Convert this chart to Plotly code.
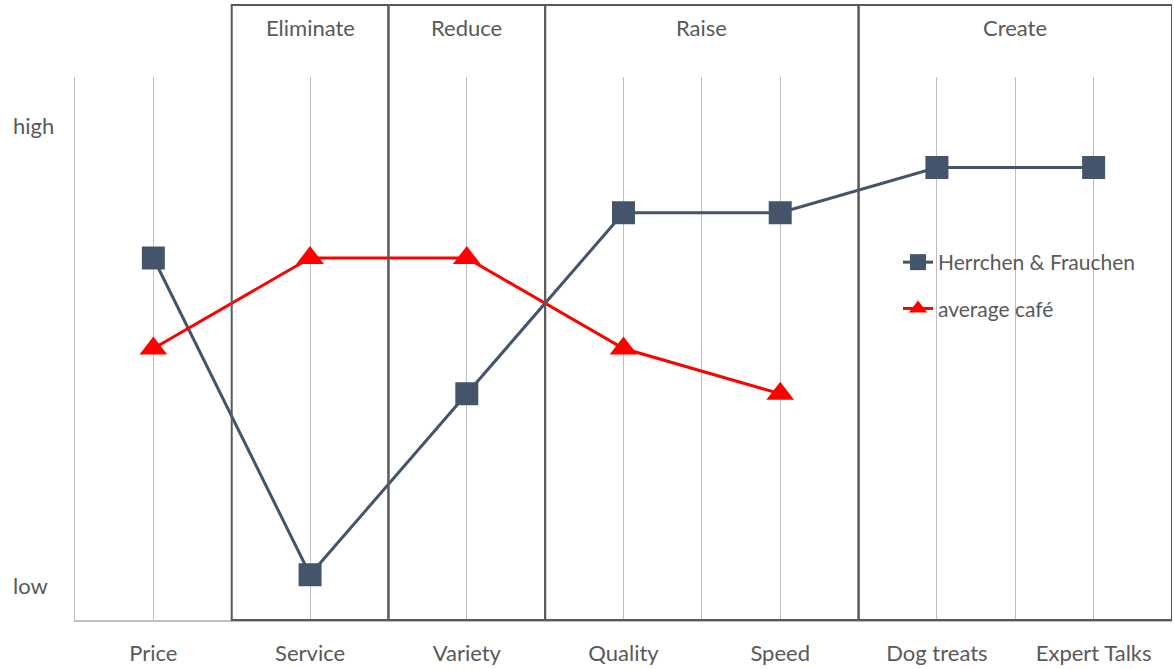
import plotly.graph_objects as go

categories = ["Price", "Service", "Variety", "Quality", "Speed", "Dog treats", "Expert Talks"]
herrchen = [8, 1, 5, 9, 9, 10, 10]
average_cafe = [6, 8, 8, 6, 5, None, None]
groups = [("Eliminate", 1, 1), ("Reduce", 2, 2), ("Raise", 3, 4), ("Create", 5, 6)]
y_labels = [("high", 10.92), ("low", 0.77)]

FONT = "Lato"
TXT = "#595959"
W, H = 1174, 669
ML, MR, MT, MB = 75, 2, 77, 49
ph = H - MT - MB
pw = W - ML - MR

x = list(range(len(categories)))

fig = go.Figure()
fig.add_trace(go.Scatter(
    x=x, y=herrchen, name="Herrchen & Frauchen", mode="lines+markers",
    line=dict(color="#44546A", width=3),
    marker=dict(symbol="square", size=23, color="#44546A"),
    legendgroup="a"))
fig.add_trace(go.Scatter(
    x=x, y=average_cafe, name="average café", mode="lines+markers",
    line=dict(color="#FF0000", width=3),
    marker=dict(symbol="triangle-up", size=24, color="#FF0000"),
    legendgroup="b"))

top_paper = (H - MB - 5) / ph
head_paper = (H - MB - 27) / ph
for name, a, b in groups:
    fig.add_shape(type="rect", xref="x", yref="paper", x0=a - 0.5, x1=b + 0.5,
                  y0=0, y1=top_paper, line=dict(color="#595959", width=2), layer="above")
    fig.add_annotation(x=(a + b) / 2, xref="x", y=head_paper, yref="paper",
                       text=name, showarrow=False, font=dict(family=FONT, size=22, color=TXT),
                       yanchor="middle")

for txt, v in y_labels:
    fig.add_annotation(x=(11 - ML) / pw, xref="paper", y=v, yref="y", text=txt,
                       showarrow=False, xanchor="left", yanchor="middle",
                       font=dict(family=FONT, size=22, color=TXT))

fig.update_layout(
    width=W, height=H, margin=dict(l=ML, r=MR, t=MT, b=MB, autoexpand=False),
    paper_bgcolor="white", plot_bgcolor="white",
    font=dict(family=FONT, size=22, color=TXT),
    legend=dict(x=(898 - ML) / pw, y=(H - MB - 242) / ph, xanchor="left", yanchor="top",
                bgcolor="rgba(0,0,0,0)", font=dict(family=FONT, size=21, color=TXT),
                tracegroupgap=16, itemwidth=30),
    xaxis=dict(range=[-0.5, 6.5], tickvals=x, ticktext=categories,
               showgrid=True, gridcolor="#BFBFBF", gridwidth=1,
               minor=dict(tickvals=[i + 0.5 for i in range(-1, 7)], showgrid=True,
                          gridcolor="#BFBFBF", gridwidth=1),
               showline=True, linecolor="#BFBFBF", linewidth=1.5,
               ticks="", ticklabelstandoff=13, zeroline=False, automargin=False,
               tickfont=dict(family=FONT, size=22, color=TXT)),
    yaxis=dict(range=[0, 12], showgrid=False, zeroline=False, showticklabels=False,
               showline=True, linecolor="#BFBFBF", linewidth=1, automargin=False),
)

fig.write_html("out.html")
